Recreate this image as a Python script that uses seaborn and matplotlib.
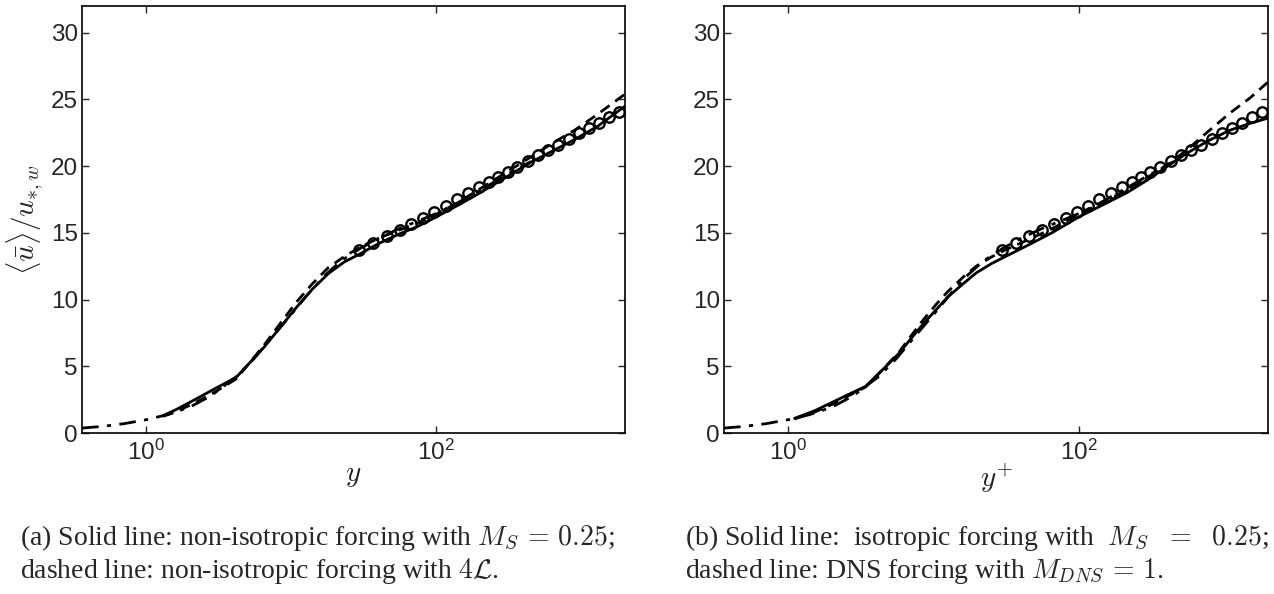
import numpy as np
import matplotlib
matplotlib.use("Agg")
import matplotlib.pyplot as plt
import seaborn as sns

# reference DNS profile (dash-dot), same in both panels
y_dns = [0.36, 0.5, 0.7, 1.0, 1.4, 2.0, 2.8, 3.4, 4.2, 5.5, 7.5, 10, 13, 17, 22, 30, 40, 55, 75, 100, 140, 200, 300, 450]
u_dns = [0.37, 0.5, 0.7, 1.0, 1.38, 1.95, 2.8, 3.5, 4.25, 5.55, 7.3, 8.9, 10.4, 11.8, 12.9, 13.85, 14.6, 15.3, 15.9, 16.45, 17.25, 18.2, 19.3, 20.35]

# circles (same in both panels)
y_circ = [29.3, 36.7, 45.5, 56, 67, 81, 97, 116, 138, 166, 197, 232, 267, 310, 359,
          428, 503, 591, 695, 817, 959, 1127, 1324, 1556, 1829]
u_circ = [13.7, 14.25, 14.75, 15.25, 15.7, 16.15, 16.6, 17.05, 17.5, 17.95, 18.4, 18.8, 19.2, 19.55, 19.95,
          20.35, 20.8, 21.2, 21.6, 22.05, 22.45, 22.85, 23.25, 23.65, 24.05]

# panel (a)
ya = [1.3, 1.6, 2.2, 3.0, 4.16, 5.0, 6.5, 8.5, 11, 14, 18, 23, 30, 40, 55, 75, 100, 140, 200, 300, 450, 650, 900, 1300, 2000]
ua_solid = [1.3, 1.75, 2.55, 3.35, 4.17, 5.1, 6.45, 8.0, 9.5, 10.8, 11.95, 12.8, 13.45, 14.2, 14.9, 15.5, 16.2,
            17.05, 18.0, 19.15, 20.3, 21.2, 22.0, 23.0, 24.5]
ua_dash = [1.25, 1.6, 2.3, 3.1, 4.05, 5.1, 6.6, 8.3, 9.9, 11.2, 12.4, 13.2, 13.95, 14.6, 15.2, 15.75, 16.4,
           17.25, 18.3, 19.5, 20.7, 21.8, 22.7, 23.9, 25.4]

# panel (b)
yb = [1.1, 1.5, 2.0, 2.6, 3.4, 4.5, 5.8, 7.0, 8.5, 10.5, 12.5, 16, 19.6, 25, 30.8, 45, 65, 100, 140, 213, 300, 407, 550, 775, 1100, 1500, 2000]
ub_solid = [1.1, 1.65, 2.3, 2.9, 3.5, 4.8, 6.0, 7.1, 8.2, 9.3, 10.2, 11.2, 12.0, 12.7, 13.2, 14.1, 15.0, 16.2,
            17.0, 18.0, 19.0, 20.0, 20.95, 21.9, 22.7, 23.2, 23.6]
ub_dash = [1.05, 1.55, 2.15, 2.8, 3.45, 4.8, 6.1, 7.3, 8.5, 9.7, 10.6, 11.7, 12.5, 13.2, 13.7, 14.5, 15.3, 16.4,
           17.2, 18.2, 19.2, 20.1, 21.2, 22.6, 24.0, 25.1, 26.3]

sns.set_style("ticks")
plt.rcParams["font.family"] = ["Liberation Sans", "DejaVu Sans"]
plt.rcParams["mathtext.fontset"] = "cm"

fig = plt.figure(figsize=(12.74, 5.94), dpi=100)
ax1 = fig.add_axes([0.0644, 0.271, 0.4262, 0.7189])
ax2 = fig.add_axes([0.5683, 0.271, 0.4270, 0.7189])


def draw(ax, y, u_solid, u_dash, xlabel):
    sns.lineplot(x=y_dns, y=u_dns, ax=ax, color="k", lw=2, linestyle=(0, (6, 3, 1.5, 3)), sort=False)
    sns.lineplot(x=y, y=u_dash, ax=ax, color="k", lw=2, linestyle=(0, (4, 2.5)), sort=False)
    sns.lineplot(x=y, y=u_solid, ax=ax, color="k", lw=2, sort=False)
    sns.lineplot(x=y_circ, y=u_circ, ax=ax, linestyle="none", marker="o", markersize=7.5,
                 markerfacecolor="none", markeredgecolor="k", markeredgewidth=1.7, sort=False)
    ax.set_xscale("log")
    ax.set_xlim(0.36, 2000)
    ax.set_ylim(0, 32)
    ax.set_xticks([1, 100])
    ax.set_xticklabels([r"$\mathregular{10^{0}}$", r"$\mathregular{10^{2}}$"])
    ax.xaxis.set_minor_locator(matplotlib.ticker.NullLocator())
    ax.set_yticks([0, 5, 10, 15, 20, 25, 30])
    ax.tick_params(direction="in", length=5, width=1, labelsize=17.5, top=True, right=True)
    ax.tick_params(axis="x", pad=5)
    ax.tick_params(axis="y", pad=3)
    for s in ax.spines.values():
        s.set_linewidth(1.2)
        s.set_color("k")
    ax.set_xlabel(xlabel, fontsize=21)
    ax.xaxis.set_label_coords(0.5, -0.065)
    ax.set_ylabel("")


draw(ax1, ya, ua_solid, ua_dash, r"$y$")
draw(ax2, yb, ub_solid, ub_dash, r"$y^{+}$")
ax1.set_ylabel(r"$\langle \bar{u} \rangle / u_{*,w}$", fontsize=21)
ax1.yaxis.set_label_coords(-0.068, 0.5)

cap = dict(family=["Liberation Serif", "DejaVu Serif"], fontsize=20, va="baseline", ha="left")
fig.text(0.0157, 0.0825, r"(a) Solid line: non-isotropic forcing with $M_S\, =\, 0.25$;", **cap)
fig.text(0.0157, 0.027, r"dashed line: non-isotropic forcing with $4\mathcal{L}$.", **cap)
fig.text(0.5377, 0.0825, r"(b) Solid line:  isotropic forcing with  $M_S\ \ =\ \ 0.25$;", **cap)
fig.text(0.5377, 0.027, r"dashed line: DNS forcing with $M_{DNS}\, =\, 1$.", **cap)

fig.savefig("out.png", dpi=100)
